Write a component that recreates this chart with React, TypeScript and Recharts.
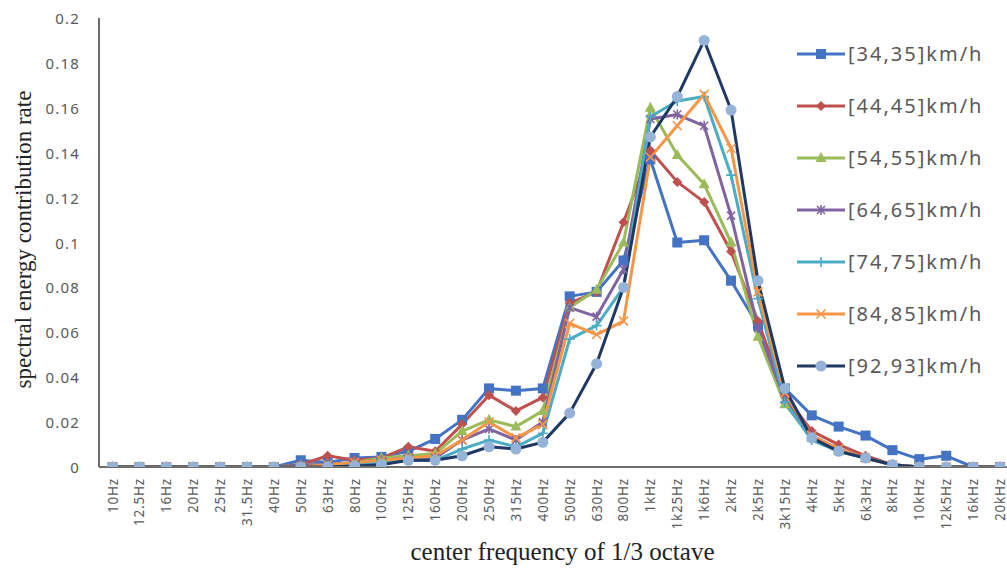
import React from 'react';
import { LineChart, Line, XAxis, YAxis, Legend, Label } from 'recharts';

const categories = [
  '10Hz', '12.5Hz', '16Hz', '20Hz', '25Hz', '31.5Hz', '40Hz', '50Hz', '63Hz', '80Hz',
  '100Hz', '125Hz', '160Hz', '200Hz', '250Hz', '315Hz', '400Hz', '500Hz', '630Hz', '800Hz',
  '1kHz', '1k25Hz', '1k6Hz', '2kHz', '2k5Hz', '3k15Hz', '4kHz', '5kHz', '6k3Hz', '8kHz',
  '10kHz', '12k5Hz', '16kHz', '20kHz',
];

const yTicks = [0, 0.02, 0.04, 0.06, 0.08, 0.1, 0.12, 0.14, 0.16, 0.18, 0.2];

const s34 = [0, 0, 0, 0, 0, 0, 0, 0.003, 0.002, 0.004, 0.0045, 0.007, 0.0125, 0.021, 0.035, 0.034, 0.035, 0.076, 0.078, 0.092, 0.137, 0.1, 0.101, 0.083, 0.063, 0.035, 0.023, 0.018, 0.014, 0.0075, 0.0035, 0.005, 0, 0];
const s44 = [0, 0, 0, 0, 0, 0, 0, 0.001, 0.005, 0.003, 0.004, 0.009, 0.007, 0.019, 0.032, 0.025, 0.031, 0.073, 0.078, 0.109, 0.141, 0.127, 0.118, 0.096, 0.065, 0.032, 0.016, 0.01, 0.005, 0.001, 0, 0, 0, 0];
const s54 = [0, 0, 0, 0, 0, 0, 0, 0.001, 0.001, 0.002, 0.004, 0.005, 0.006, 0.016, 0.021, 0.018, 0.025, 0.071, 0.079, 0.1, 0.16, 0.139, 0.126, 0.1, 0.058, 0.028, 0.013, 0.007, 0.004, 0.001, 0, 0, 0, 0];
const s64 = [0, 0, 0, 0, 0, 0, 0, 0.001, 0.001, 0.002, 0.003, 0.004, 0.004, 0.012, 0.017, 0.012, 0.02, 0.071, 0.067, 0.088, 0.155, 0.157, 0.152, 0.112, 0.062, 0.03, 0.014, 0.008, 0.004, 0.001, 0, 0, 0, 0];
const s74 = [0, 0, 0, 0, 0, 0, 0, 0, 0, 0.001, 0.002, 0.003, 0.003, 0.008, 0.012, 0.009, 0.015, 0.057, 0.063, 0.08, 0.156, 0.163, 0.165, 0.13, 0.075, 0.029, 0.012, 0.007, 0.004, 0.001, 0, 0, 0, 0];
const s84 = [0, 0, 0, 0, 0, 0, 0, 0, 0.001, 0.002, 0.003, 0.004, 0.005, 0.012, 0.02, 0.013, 0.019, 0.064, 0.059, 0.065, 0.138, 0.152, 0.166, 0.142, 0.078, 0.033, 0.014, 0.008, 0.004, 0.001, 0, 0, 0, 0];
const s92 = [0, 0, 0, 0, 0, 0, 0, 0, 0, 0.0005, 0.001, 0.003, 0.003, 0.005, 0.009, 0.008, 0.011, 0.024, 0.046, 0.08, 0.147, 0.165, 0.19, 0.159, 0.083, 0.035, 0.013, 0.007, 0.004, 0.001, 0, 0, 0, 0];

const seriesNames = ['[34,35]km/h', '[44,45]km/h', '[54,55]km/h', '[64,65]km/h', '[74,75]km/h', '[84,85]km/h', '[92,93]km/h'];
const seriesValues = [s34, s44, s54, s64, s74, s84, s92];

type MarkerKind = 'square' | 'diamond' | 'triangle' | 'star' | 'plus' | 'x' | 'circle';

const seriesStyles: { color: string; marker: MarkerKind; fill: string }[] = [
  { color: '#4472C4', marker: 'square', fill: '#4472C4' },
  { color: '#C0504D', marker: 'diamond', fill: '#C0504D' },
  { color: '#9BBB59', marker: 'triangle', fill: '#9BBB59' },
  { color: '#8064A2', marker: 'star', fill: '#8064A2' },
  { color: '#4BACC6', marker: 'plus', fill: '#4BACC6' },
  { color: '#F79646', marker: 'x', fill: '#F79646' },
  { color: '#1F3864', marker: 'circle', fill: '#95B3D7' },
];

const seriesKeys = seriesNames.map((_, i) => `s${i}`);

const data = categories.map((cat, i) => {
  const row: Record<string, string | number> = { cat };
  seriesValues.forEach((vals, s) => {
    row[seriesKeys[s]] = vals[i];
  });
  return row;
});

const TICK_COLOR = '#595959';
const AXIS_COLOR = '#6e6e6e';

function Marker({ kind, cx, cy, color, fill }: { kind: MarkerKind; cx: number; cy: number; color: string; fill: string }) {
  switch (kind) {
    case 'square':
      return <rect x={cx - 5} y={cy - 5} width={10} height={10} fill={fill} />;
    case 'diamond':
      return <polygon points={`${cx},${cy - 5} ${cx + 5},${cy} ${cx},${cy + 5} ${cx - 5},${cy}`} fill={fill} />;
    case 'triangle':
      return <polygon points={`${cx},${cy - 6} ${cx + 5.5},${cy + 4} ${cx - 5.5},${cy + 4}`} fill={fill} />;
    case 'star':
      return (
        <g stroke={color} strokeWidth={1.6}>
          <line x1={cx - 4} y1={cy - 4} x2={cx + 4} y2={cy + 4} />
          <line x1={cx - 4} y1={cy + 4} x2={cx + 4} y2={cy - 4} />
          <line x1={cx} y1={cy - 5} x2={cx} y2={cy + 5} />
        </g>
      );
    case 'plus':
      return (
        <g stroke={color} strokeWidth={1.6}>
          <line x1={cx - 5} y1={cy} x2={cx + 5} y2={cy} />
          <line x1={cx} y1={cy - 5} x2={cx} y2={cy + 5} />
        </g>
      );
    case 'x':
      return (
        <g stroke={color} strokeWidth={1.6}>
          <line x1={cx - 4.5} y1={cy - 4.5} x2={cx + 4.5} y2={cy + 4.5} />
          <line x1={cx - 4.5} y1={cy + 4.5} x2={cx + 4.5} y2={cy - 4.5} />
        </g>
      );
    case 'circle':
    default:
      return <circle cx={cx} cy={cy} r={5.5} fill={fill} />;
  }
}

const XTick = (props: any) => {
  const { x, y, payload } = props;
  return (
    <g transform={`translate(${x},${y})`}>
      <text
        x={0}
        y={0}
        transform="rotate(-90)"
        textAnchor="end"
        dominantBaseline="central"
        fill={TICK_COLOR}
        fontSize={13.5}
        fontFamily="'Noto Sans', sans-serif"
        letterSpacing={0.8}
      >
        {payload.value}
      </text>
    </g>
  );
};

const YTick = (props: any) => {
  const { x, y, payload } = props;
  return (
    <text
      x={x}
      y={y}
      textAnchor="end"
      dominantBaseline="central"
      fill={TICK_COLOR}
      fontSize={15}
      fontFamily="'Noto Sans', sans-serif"
      letterSpacing={1.2}
    >
      {String(payload.value)}
    </text>
  );
};

const renderLegend = (props: any) => {
  const payload = (props.payload || []) as any[];
  return (
    <div>
      {payload.map((entry: any, i: number) => {
        const idx = seriesKeys.indexOf(entry.dataKey);
        const st = seriesStyles[idx >= 0 ? idx : i];
        return (
          <div key={entry.value} style={{ height: 52, display: 'flex', alignItems: 'center' }}>
            <svg width={50} height={20} style={{ display: 'block' }}>
              <line x1={0} y1={10} x2={48} y2={10} stroke={st.color} strokeWidth={3} />
              <Marker kind={st.marker} cx={24} cy={10} color={st.color} fill={st.fill} />
            </svg>
            <span
              style={{
                marginLeft: 1,
                fontFamily: "'Noto Sans', sans-serif",
                fontSize: 20,
                letterSpacing: 2,
                color: TICK_COLOR,
                whiteSpace: 'nowrap',
                lineHeight: '20px',
              }}
            >
              {entry.value}
            </span>
          </div>
        );
      })}
    </div>
  );
};

export default function App() {
  return (
    <div
      style={{
        position: 'absolute',
        left: 0,
        top: 0,
        width: 1007,
        height: 568,
        overflow: 'hidden',
        background: '#ffffff',
      }}
    >
      <LineChart width={1014} height={568} data={data} margin={{ top: 18, right: 0, bottom: 0, left: 0 }}>
        <XAxis
          dataKey="cat"
          interval={0}
          padding={{ left: 13.5, right: 14 }}
          tick={<XTick />}
          tickLine={false}
          tickSize={0}
          tickMargin={11}
          height={101}
          axisLine={{ stroke: AXIS_COLOR, strokeWidth: 2 }}
        >
          <Label
            content={(p: any) => {
              const vb = p.viewBox || { x: 99, y: 467, width: 915, height: 101 };
              return (
                <text
                  x={vb.x + vb.width / 2 + 6}
                  y={560}
                  textAnchor="middle"
                  fill="#222222"
                  fontSize={25}
                  fontFamily="'Liberation Serif', 'Times New Roman', serif"
                >
                  center frequency of 1/3 octave
                </text>
              );
            }}
          />
        </XAxis>
        <YAxis
          domain={[0, 0.2]}
          ticks={yTicks}
          width={99}
          tick={<YTick />}
          tickLine={false}
          tickSize={0}
          tickMargin={19}
          axisLine={{ stroke: AXIS_COLOR, strokeWidth: 2 }}
          allowDataOverflow
        >
          <Label
            content={(p: any) => {
              const vb = p.viewBox || { x: 0, y: 18, width: 99, height: 449 };
              const cx = vb.x + 23;
              const cy = vb.y + vb.height / 2 - 3;
              return (
                <text
                  x={cx}
                  y={cy}
                  transform={`rotate(-90, ${cx}, ${cy})`}
                  textAnchor="middle"
                  dominantBaseline="central"
                  fill="#222222"
                  fontSize={23}
                  fontFamily="'Liberation Serif', 'Times New Roman', serif"
                >
                  spectral energy contribution rate
                </text>
              );
            }}
          />
        </YAxis>
        <Legend
          layout="vertical"
          align="center"
          verticalAlign="middle"
          content={renderLegend}
          wrapperStyle={{ position: 'absolute', left: 797, top: 28, width: 210, height: 'auto' }}
        />
        {seriesKeys.map((k, s) => {
          const st = seriesStyles[s];
          return (
            <Line
              key={k}
              type="linear"
              dataKey={k}
              name={seriesNames[s]}
              stroke={st.color}
              strokeWidth={3}
              strokeLinejoin="round"
              isAnimationActive={false}
              activeDot={false}
              dot={(p: any) => (
                <Marker key={`${k}-${p.index}`} kind={st.marker} cx={p.cx} cy={p.cy} color={st.color} fill={st.fill} />
              )}
            />
          );
        })}
      </LineChart>
    </div>
  );
}
